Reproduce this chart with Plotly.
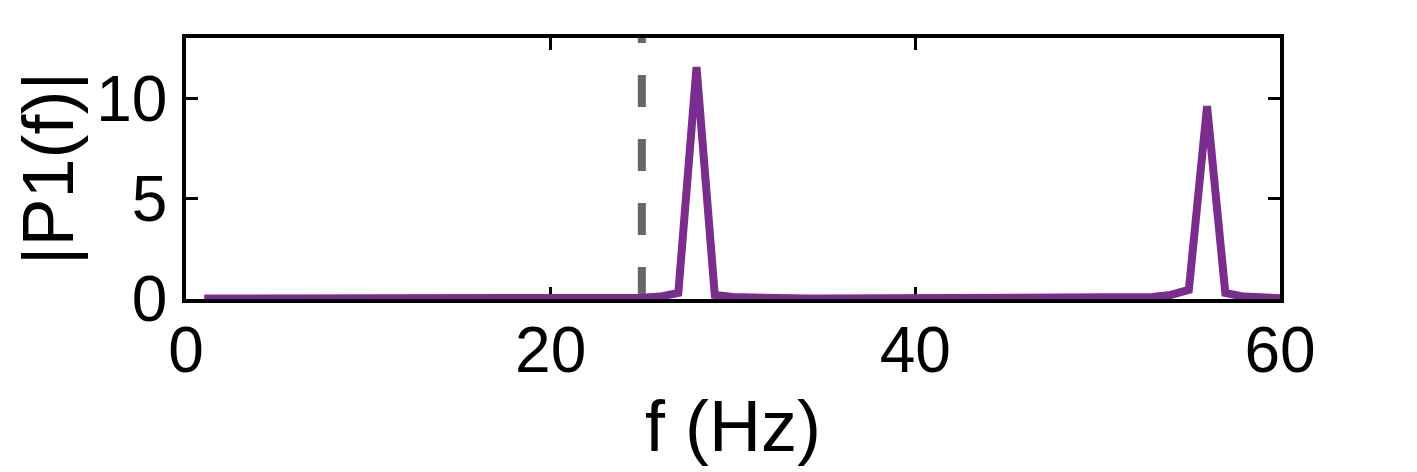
import plotly.graph_objects as go

# single-sided amplitude spectrum, 1 Hz bins
freq = list(range(1, 61))
amp = [0.02] * 60
amp[23] = 0.04   # 24 Hz
amp[24] = 0.06   # 25
amp[25] = 0.12   # 26
amp[26] = 0.3    # 27
amp[27] = 11.55  # 28
amp[28] = 0.2    # 29
amp[29] = 0.1    # 30
amp[30] = 0.06   # 31
amp[51] = 0.05   # 52
amp[52] = 0.1    # 53
amp[53] = 0.2    # 54
amp[54] = 0.45   # 55
amp[55] = 9.6    # 56
amp[56] = 0.3    # 57
amp[57] = 0.12   # 58
amp[58] = 0.06   # 59
amp[59] = 0.04   # 60

cutoff = 25
x_ticks = [0, 20, 40, 60]
y_ticks = [0, 5, 10]

fig = go.Figure()
fig.add_trace(go.Scatter(x=[cutoff, cutoff], y=[0, 13], mode='lines',
                         line=dict(color='#666666', width=8, dash='32px,32px'),
                         hoverinfo='skip', showlegend=False))
fig.add_trace(go.Scatter(x=freq, y=amp, mode='lines',
                         line=dict(color='#7B2D8E', width=8),
                         showlegend=False))

axis = dict(showline=True, linecolor='black', linewidth=3.5, mirror='ticks',
            ticks='inside', ticklen=12, tickwidth=3, tickcolor='black',
            showgrid=False, zeroline=False, layer='below traces',
            tickfont=dict(size=64, color='black'))

fig.update_xaxes(range=[0, 60], tickvals=x_ticks, ticklabelstandoff=-8,
                 title=dict(text='f (Hz)', font=dict(size=72, color='black'), standoff=17),
                 **axis)
fig.update_yaxes(range=[0, 13], tickvals=y_ticks, ticklabelstandoff=2,
                 title=dict(text='|P1(f)|', font=dict(size=72, color='black'), standoff=12),
                 **axis)

fig.update_layout(width=1417, height=472, template='plotly_white',
                  plot_bgcolor='white', paper_bgcolor='white',
                  font=dict(family='Liberation Sans, Arial, sans-serif', color='black'),
                  margin=dict(l=178, r=145, t=30, b=181))

fig.write_html('out.html')
